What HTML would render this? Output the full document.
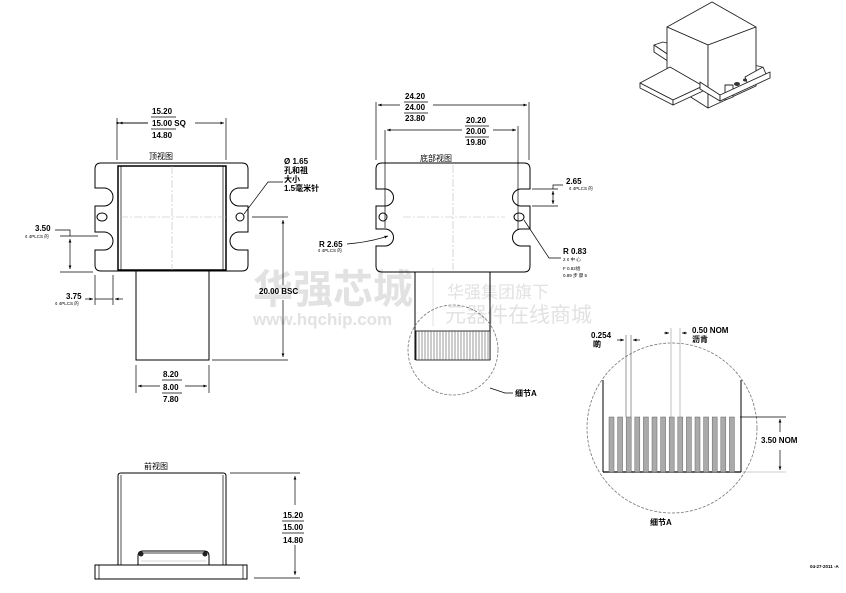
<!DOCTYPE html>
<html><head><meta charset="utf-8"><style>
html,body{margin:0;padding:0;background:#fff}
svg{display:block}
text{font-family:"Liberation Sans","Noto Sans CJK SC",sans-serif;fill:#000}
.d{font-size:8px;font-weight:bold}
.s{font-size:4.5px}
.l{stroke:#000;stroke-width:1;fill:none}
.t{stroke:#000;stroke-width:0.7;fill:none}
.c{stroke:#bbb;stroke-width:0.6;fill:none;stroke-dasharray:8 2 2 2}
</style></head><body>
<svg width="846" height="593" viewBox="0 0 846 593" xmlns="http://www.w3.org/2000/svg">
<defs>
<marker id="a" markerWidth="6" markerHeight="6" refX="5" refY="3" orient="auto"><path d="M0,1 L5,3 L0,5 Z" fill="#000"/></marker>
</defs>

<!-- watermark -->
<g fill="#e0e0e0">
<text x="253" y="303" style="font-size:40px;font-weight:bold;fill:#e2e2e2">华强芯城</text>
<text x="253" y="325" style="font-size:17px;font-weight:bold;fill:#e2e2e2">www.hqchip.com</text>
<text x="447" y="298" style="font-size:17px;fill:#e2e2e2">华强集团旗下</text>
<text x="445" y="322" style="font-size:21px;fill:#e2e2e2">元器件在线商城</text>
</g>
<line x1="433" y1="268" x2="433" y2="326" stroke="#e2e2e2"/>

<!-- TOP VIEW -->
<path class="l" d="M101,163 H242 Q248,163 248,169 V188 H239 A9,9 0 0 0 239,206 H248 V232 H239 A9,9 0 0 0 239,250 H248 V265 Q248,271 242,271 H101 Q95,271 95,265 V250 H104 A9,9 0 0 0 104,232 H95 V206 H104 A9,9 0 0 0 104,188 H95 V169 Q95,163 101,163 Z"/>
<rect x="118" y="166" width="108" height="104" fill="none" stroke="#000" stroke-width="1.5"/>
<line x1="121" y1="166" x2="121" y2="270" class="t"/>
<line x1="223" y1="166" x2="223" y2="270" class="t"/>
<ellipse cx="102" cy="217" rx="5" ry="4" class="l"/>
<circle cx="240" cy="217" r="4" class="l"/>
<line x1="172" y1="166" x2="172" y2="270" class="c"/>
<line x1="120" y1="217" x2="226" y2="217" class="c"/>
<rect x="136" y="271" width="73" height="89" class="l"/>
<text x="149" y="159" style="font-size:8px">顶视图</text>
<!-- top dims -->
<line x1="117" y1="118" x2="117" y2="160" class="t"/>
<line x1="226" y1="118" x2="226" y2="160" class="t"/>
<line x1="120" y1="123" x2="148" y2="123" class="t" marker-start="url(#a)" transform=""/>
<line x1="148" y1="123" x2="119" y2="123" class="t" marker-end="url(#a)"/>
<line x1="195" y1="123" x2="224" y2="123" class="t" marker-end="url(#a)"/>
<text x="152" y="114" class="d">15.20</text>
<line x1="151" y1="117" x2="176" y2="117" class="t"/>
<text x="152" y="126" class="d">15.00 SQ</text>
<line x1="151" y1="129" x2="176" y2="129" class="t"/>
<text x="152" y="138" class="d">14.80</text>
<!-- 8.00 -->
<line x1="136" y1="365" x2="136" y2="393" class="t"/>
<line x1="209" y1="365" x2="209" y2="393" class="t"/>
<line x1="160" y1="386" x2="138" y2="386" class="t" marker-end="url(#a)"/>
<line x1="185" y1="386" x2="207" y2="386" class="t" marker-end="url(#a)"/>
<text x="163" y="377" class="d">8.20</text>
<line x1="162" y1="380" x2="182" y2="380" class="t"/>
<text x="163" y="390" class="d">8.00</text>
<line x1="162" y1="393" x2="182" y2="393" class="t"/>
<text x="163" y="402" class="d">7.80</text>
<!-- 20.00 BSC -->
<line x1="252" y1="217" x2="288" y2="217" class="t"/>
<line x1="212" y1="360" x2="288" y2="360" class="t"/>
<line x1="283" y1="240" x2="283" y2="220" class="t" marker-end="url(#a)"/>
<line x1="283" y1="300" x2="283" y2="357" class="t" marker-end="url(#a)"/>
<line x1="283" y1="240" x2="283" y2="285" class="t"/>
<text x="259" y="294" class="d">20.00 BSC</text>
<!-- hole leader -->
<polyline points="244,214 268,182 283,182" class="t"/>
<text x="284" y="164" class="d">Ø 1.65</text>
<text x="284" y="173" style="font-size:8px;font-weight:bold">孔和祖</text>
<text x="284" y="182" style="font-size:8px;font-weight:bold">大小</text>
<text x="284" y="191" style="font-size:8px;font-weight:bold">1.5毫米针</text>
<!-- 3.50 -->
<line x1="60" y1="236" x2="98" y2="236" class="t"/>
<line x1="60" y1="272" x2="93" y2="272" class="t"/>
<line x1="70" y1="250" x2="70" y2="239" class="t" marker-end="url(#a)"/>
<line x1="70" y1="250" x2="70" y2="269" class="t" marker-end="url(#a)"/>
<polyline points="55,230 70,230 70,236" class="t"/>
<text x="35" y="231" class="d">3.50</text>
<text x="25" y="238" class="s">¢  4PLCS 的</text>
<!-- 3.75 -->
<line x1="95" y1="275" x2="95" y2="305" class="t"/>
<line x1="113" y1="275" x2="113" y2="305" class="t"/>
<line x1="85" y1="299" x2="93" y2="299" class="t" marker-end="url(#a)"/>
<line x1="123" y1="299" x2="115" y2="299" class="t" marker-end="url(#a)"/>
<line x1="95" y1="299" x2="113" y2="299" class="t"/>
<text x="66" y="299" class="d">3.75</text>
<text x="55" y="305" class="s">¢  4PLCS 的</text>

<!-- BOTTOM VIEW -->
<path class="l" d="M382,163 H524 Q530,163 530,169 V189 H521 A8.5,8.5 0 0 0 521,206 H530 V229 H521 A8.5,8.5 0 0 0 521,246 H530 V266 Q530,272 524,272 H382 Q376,272 376,266 V246 H385 A8.5,8.5 0 0 0 385,229 H376 V206 H385 A8.5,8.5 0 0 0 385,189 H376 V169 Q376,163 382,163 Z"/>
<circle cx="383" cy="217" r="4" class="l"/>
<ellipse cx="519" cy="217" rx="5" ry="4" class="l"/>
<line x1="453" y1="165" x2="453" y2="270" class="c"/>
<line x1="403" y1="217" x2="505" y2="217" class="c"/>
<line x1="415" y1="272" x2="415" y2="360" class="l"/>
<line x1="490" y1="272" x2="490" y2="360" class="l"/>
<rect x="416" y="331" width="74" height="29" fill="#fff" stroke="#000" stroke-width="0.8"/>
<g stroke="#555" stroke-width="0.6">
<line x1="419" y1="331" x2="419" y2="360"/><line x1="422" y1="331" x2="422" y2="360"/><line x1="425" y1="331" x2="425" y2="360"/><line x1="428" y1="331" x2="428" y2="360"/><line x1="431" y1="331" x2="431" y2="360"/><line x1="434" y1="331" x2="434" y2="360"/><line x1="437" y1="331" x2="437" y2="360"/><line x1="440" y1="331" x2="440" y2="360"/><line x1="443" y1="331" x2="443" y2="360"/><line x1="446" y1="331" x2="446" y2="360"/><line x1="449" y1="331" x2="449" y2="360"/><line x1="452" y1="331" x2="452" y2="360"/><line x1="455" y1="331" x2="455" y2="360"/><line x1="458" y1="331" x2="458" y2="360"/><line x1="461" y1="331" x2="461" y2="360"/><line x1="464" y1="331" x2="464" y2="360"/><line x1="467" y1="331" x2="467" y2="360"/><line x1="470" y1="331" x2="470" y2="360"/><line x1="473" y1="331" x2="473" y2="360"/><line x1="476" y1="331" x2="476" y2="360"/><line x1="479" y1="331" x2="479" y2="360"/><line x1="482" y1="331" x2="482" y2="360"/><line x1="485" y1="331" x2="485" y2="360"/><line x1="488" y1="331" x2="488" y2="360"/>
</g>
<circle cx="453" cy="350" r="45" fill="none" stroke="#777" stroke-width="0.8" stroke-dasharray="3 1.5"/>
<polyline points="490,388 505,393 513,393" class="t"/>
<text x="515" y="396" style="font-size:8px;font-weight:bold">细节A</text>
<text x="420" y="161" style="font-size:8px">底部视图</text>
<!-- dims -->
<line x1="376" y1="102" x2="376" y2="160" class="t"/>
<line x1="529" y1="102" x2="529" y2="160" class="t"/>
<line x1="385" y1="130" x2="385" y2="228" class="t"/>
<line x1="518" y1="126" x2="518" y2="230" class="t"/>
<line x1="400" y1="105" x2="378" y2="105" class="t" marker-end="url(#a)"/>
<line x1="433" y1="105" x2="527" y2="105" class="t" marker-end="url(#a)"/>
<line x1="462" y1="130" x2="387" y2="130" class="t" marker-end="url(#a)"/>
<line x1="493" y1="130" x2="516" y2="130" class="t" marker-end="url(#a)"/>
<text x="405" y="99" class="d">24.20</text>
<line x1="404" y1="102" x2="428" y2="102" class="t"/>
<text x="405" y="110" class="d">24.00</text>
<line x1="404" y1="113" x2="428" y2="113" class="t"/>
<text x="405" y="121" class="d">23.80</text>
<text x="466" y="123" class="d">20.20</text>
<line x1="465" y1="126" x2="489" y2="126" class="t"/>
<text x="466" y="134" class="d">20.00</text>
<line x1="465" y1="137" x2="489" y2="137" class="t"/>
<text x="466" y="145" class="d">19.80</text>
<!-- 2.65 -->
<line x1="532" y1="189" x2="558" y2="189" class="t"/>
<line x1="532" y1="206" x2="558" y2="206" class="t"/>
<line x1="553" y1="197" x2="553" y2="191" class="t" marker-end="url(#a)"/>
<line x1="553" y1="197" x2="553" y2="204" class="t" marker-end="url(#a)"/>
<polyline points="553,189 553,185 563,185" class="t"/>
<text x="566" y="184" class="d">2.65</text>
<text x="569" y="190" class="s">¢  4PLCS 的</text>
<!-- R2.65 -->
<path d="M347,244 Q370,242 388,236" class="t" marker-end="url(#a)"/>
<text x="319" y="247" class="d">R 2.65</text>
<text x="318" y="252" class="s">¢  4PLCS 的</text>
<!-- R0.83 -->
<polyline points="524,220 549,258 561,258" class="t"/>
<text x="563" y="254" class="d">R 0.83</text>
<text x="563" y="261" class="s">2  ¢ 中 心</text>
<text x="563" y="270" class="s">F 0.82组</text>
<text x="563" y="277" class="s">0.89 步 骤 5</text>

<!-- DETAIL A -->
<circle cx="672" cy="428" r="85" fill="none" stroke="#777" stroke-width="0.8" stroke-dasharray="3 1.5"/>
<line x1="603" y1="380" x2="603" y2="472" stroke="#000" stroke-width="1"/>
<line x1="741" y1="380" x2="741" y2="472" stroke="#000" stroke-width="1"/>
<line x1="603" y1="472" x2="741" y2="472" stroke="#000" stroke-width="1.2"/>
<g fill="#aaa" stroke="#666" stroke-width="0.5">
<rect x="609" y="417" width="5" height="55"/><rect x="617.6" y="417" width="5" height="55"/><rect x="626.2" y="417" width="5" height="55"/><rect x="634.8" y="417" width="5" height="55"/><rect x="643.4" y="417" width="5" height="55"/><rect x="652" y="417" width="5" height="55"/><rect x="660.6" y="417" width="5" height="55"/><rect x="669.2" y="417" width="5" height="55"/><rect x="677.8" y="417" width="5" height="55"/><rect x="686.4" y="417" width="5" height="55"/><rect x="695" y="417" width="5" height="55"/><rect x="703.6" y="417" width="5" height="55"/><rect x="712.2" y="417" width="5" height="55"/><rect x="720.8" y="417" width="5" height="55"/><rect x="729.4" y="417" width="5" height="55"/>
</g>
<line x1="626" y1="335" x2="626" y2="417" stroke="#555" stroke-width="0.6"/>
<line x1="631" y1="335" x2="631" y2="417" stroke="#555" stroke-width="0.6"/>
<line x1="671" y1="328" x2="671" y2="417" stroke="#999" stroke-width="0.6"/>
<line x1="680" y1="328" x2="680" y2="417" stroke="#999" stroke-width="0.6"/>
<line x1="617" y1="340" x2="624" y2="340" class="t" marker-end="url(#a)"/>
<line x1="640" y1="340" x2="633" y2="340" class="t" marker-end="url(#a)"/>
<line x1="664" y1="333" x2="669" y2="333" class="t" marker-end="url(#a)"/>
<line x1="687" y1="333" x2="682" y2="333" class="t" marker-end="url(#a)"/>
<text x="591" y="338" class="d">0.254</text>
<text x="593" y="347" style="font-size:8px;font-weight:bold">啲</text>
<text x="692" y="333" class="d">0.50 NOM</text>
<text x="692" y="342" style="font-size:8px;font-weight:bold">沥肯</text>
<line x1="740" y1="417" x2="786" y2="417" class="t"/>
<line x1="742" y1="472" x2="786" y2="472" stroke="#999" stroke-width="0.6"/>
<line x1="780" y1="432" x2="780" y2="419" class="t" marker-end="url(#a)"/>
<line x1="780" y1="450" x2="780" y2="470" class="t" marker-end="url(#a)"/>
<text x="761" y="443" class="d">3.50 NOM</text>
<text x="650" y="525" style="font-size:8px;font-weight:bold">细节A</text>
<text x="810" y="568" style="font-size:4.5px;font-weight:bold">04-27-2011 -A</text>

<!-- FRONT VIEW -->
<text x="144" y="469" style="font-size:8px">前视图</text>
<path d="M118,565 V476 Q118,473 121,473 H223 Q226,473 226,476 V565" class="l"/>
<line x1="121" y1="475" x2="121" y2="565" class="t"/>
<line x1="223" y1="475" x2="223" y2="565" class="t"/>
<rect x="95" y="565" width="152" height="14" class="l"/>
<line x1="99" y1="565" x2="99" y2="579" class="t"/>
<line x1="243" y1="565" x2="243" y2="579" class="t"/>
<path d="M138,565 V556 Q138,551 143,551 H204 Q209,551 209,556 V565" class="l"/>
<line x1="142" y1="553" x2="206" y2="553" class="t"/>
<circle cx="141" cy="554" r="2.5" fill="#222"/>
<circle cx="205" cy="554" r="2.5" fill="#222"/>
<line x1="141" y1="561" x2="206" y2="561" stroke="#aaa" stroke-width="0.6"/>
<line x1="230" y1="473" x2="300" y2="473" class="t"/>
<line x1="254" y1="578" x2="300" y2="578" class="t"/>
<line x1="295" y1="505" x2="295" y2="476" class="t" marker-end="url(#a)"/>
<line x1="295" y1="545" x2="295" y2="575" class="t" marker-end="url(#a)"/>
<text x="283" y="518" class="d">15.20</text>
<line x1="282" y1="521" x2="304" y2="521" class="t"/>
<text x="283" y="530" class="d">15.00</text>
<line x1="282" y1="533" x2="304" y2="533" class="t"/>
<text x="283" y="543" class="d">14.80</text>

<!-- ISO VIEW -->
<g stroke="#222" stroke-width="0.9" fill="#fff" stroke-linejoin="round">
<path d="M654,45 L654,52 L700,82 L700,76 Z"/>
<path d="M663,42 L654,45 L700,76 L762,73 L762,67 Z"/>
<path d="M667,27 L708,45 L756,27 L712,2 Z"/>
<path d="M667,27 L667,82 L708,108 L708,45 Z"/>
<path d="M708,45 L756,27 L756,86 L708,108 Z"/>
<path d="M640,83 L670,67 L703,86 L673,100 Z"/>
<path d="M640,83 L640,88 L673,105 L673,100 Z"/>
<path d="M673,100 L673,105 L703,91 L703,86 Z"/>
<path d="M700,82 L720,95 L720,101 L700,89 Z"/>
<path d="M725,85 L733,85 L733,97 L725,100 Z"/>
<path d="M745,77 L763,67 L766,74 L748,85 Z"/>
<path d="M720,95 L770,72 L770,78 L720,101 Z"/>
</g>
<ellipse cx="737" cy="84" rx="3" ry="2" fill="#333"/>
<ellipse cx="745" cy="80" rx="2" ry="1.5" fill="#333"/>
</svg>
</body></html>
